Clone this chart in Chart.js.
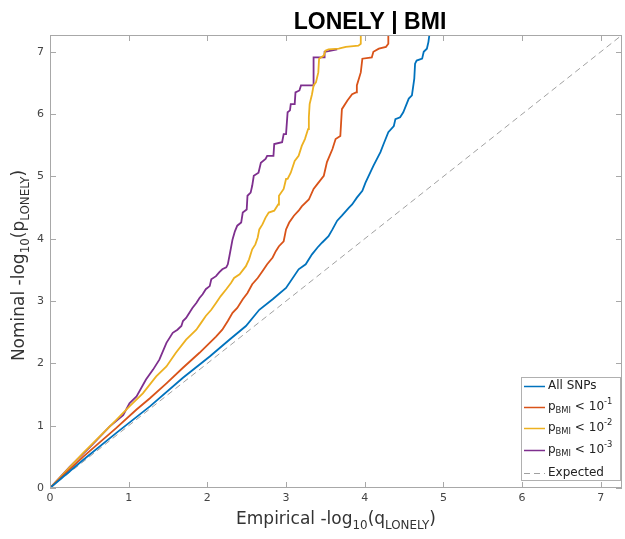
<!DOCTYPE html>
<html>
<head>
<meta charset="utf-8">
<script src="https://cdn.jsdelivr.net/npm/chart.js@4.4.6/dist/chart.umd.js"></script>
<style>
  html, body { margin: 0; padding: 0; background: #fff; }
  #wrap { width: 625px; height: 539px; }
</style>
</head>
<body>
<div id="wrap"><canvas id="qqChart"></canvas></div>
<script>
// QQ curves, as [empirical, nominal] pairs
const allSnps = [[0,0],[0.42,0.45],[0.84,0.88],[1.27,1.31],[1.69,1.77],[2.03,2.11],[2.28,2.38],
  [2.49,2.60],[2.66,2.86],[2.83,3.03],[3.0,3.21],[3.16,3.51],[3.25,3.59],[3.33,3.75],[3.40,3.86],
  [3.46,3.94],[3.54,4.04],[3.59,4.15],[3.65,4.29],[3.71,4.37],[3.80,4.50],[3.84,4.55],[3.90,4.66],
  [3.97,4.77],[4.01,4.90],[4.11,5.17],[4.20,5.39],[4.24,5.52],[4.30,5.71],[4.37,5.81],[4.39,5.92],
  [4.45,5.95],[4.49,6.03],[4.56,6.25],[4.60,6.30],[4.63,6.57],[4.64,6.81],[4.66,6.86],[4.73,6.89],
  [4.75,7.0],[4.79,7.05],[4.81,7.16],[4.83,7.35]];
const bmi1 = [[0,0],[0.42,0.50],[0.84,0.96],[1.10,1.26],[1.27,1.44],[1.48,1.68],[1.69,1.93],
  [1.90,2.17],[2.11,2.43],[2.19,2.54],[2.26,2.68],[2.32,2.81],[2.38,2.89],[2.45,3.03],[2.51,3.13],
  [2.57,3.27],[2.64,3.37],[2.70,3.48],[2.76,3.59],[2.83,3.70],[2.87,3.80],[2.91,3.88],[2.97,3.96],
  [3.0,4.15],[3.04,4.26],[3.10,4.37],[3.16,4.45],[3.20,4.52],[3.29,4.63],[3.35,4.80],[3.40,4.88],
  [3.48,5.01],[3.52,5.23],[3.59,5.44],[3.63,5.60],[3.69,5.65],[3.71,6.08],[3.78,6.22],[3.84,6.32],
  [3.89,6.35],[3.90,6.46],[3.95,6.67],[3.97,6.89],[4.09,6.91],[4.11,7.0],[4.18,7.05],[4.27,7.08],
  [4.30,7.13],[4.30,7.35]];
const bmi2 = [[0,0],[0.42,0.56],[0.84,1.09],[1.01,1.31],[1.18,1.52],[1.35,1.79],[1.48,1.95],
  [1.60,2.17],[1.73,2.38],[1.86,2.54],[1.92,2.65],[1.98,2.76],[2.05,2.86],[2.11,2.97],[2.17,3.08],
  [2.24,3.19],[2.30,3.29],[2.34,3.37],[2.41,3.43],[2.49,3.56],[2.53,3.67],[2.57,3.83],[2.61,3.91],
  [2.64,4.02],[2.66,4.15],[2.70,4.23],[2.74,4.34],[2.78,4.42],[2.85,4.45],[2.90,4.55],[2.91,4.69],
  [2.97,4.80],[3.0,4.96],[3.02,4.96],[3.06,5.06],[3.11,5.25],[3.16,5.33],[3.20,5.49],[3.24,5.60],
  [3.28,5.76],[3.29,5.95],[3.30,6.16],[3.33,6.32],[3.35,6.46],[3.38,6.51],[3.41,6.67],[3.42,6.89],
  [3.48,6.94],[3.50,7.02],[3.54,7.04],[3.67,7.05],[3.76,7.08],[3.92,7.10],[3.95,7.13],[3.95,7.35]];
const bmi3 = [[0,0],[0.25,0.34],[0.51,0.66],[0.76,0.99],[0.93,1.17],[1.01,1.36],[1.10,1.47],
  [1.22,1.74],[1.31,1.90],[1.39,2.06],[1.48,2.33],[1.56,2.49],[1.62,2.54],[1.67,2.60],[1.69,2.68],
  [1.73,2.73],[1.77,2.81],[1.81,2.89],[1.86,2.97],[1.90,3.05],[1.94,3.11],[1.98,3.19],[2.03,3.24],
  [2.05,3.35],[2.11,3.40],[2.15,3.46],[2.19,3.51],[2.24,3.54],[2.26,3.59],[2.28,3.72],[2.32,3.99],
  [2.35,4.12],[2.38,4.21],[2.43,4.26],[2.45,4.42],[2.50,4.47],[2.51,4.69],[2.55,4.74],[2.57,4.85],
  [2.59,5.01],[2.65,5.06],[2.68,5.22],[2.74,5.28],[2.76,5.33],[2.84,5.33],[2.85,5.52],[2.95,5.55],
  [2.97,5.68],[3.0,5.68],[3.02,6.03],[3.05,6.06],[3.06,6.16],[3.11,6.16],[3.12,6.35],[3.17,6.38],
  [3.19,6.46],[3.35,6.46],[3.35,6.91],[3.49,6.91],[3.49,7.0],[3.54,7.01],[3.65,7.04]];
const expected = [[0,0],[7.27,7.27]];
const axisMax = 7.27;

const toXY = (arr) => arr.map(p => ({x: p[0], y: p[1]}));

// draw text with sub/superscript parts, centred on x
function richText(ctx, parts, x, y, size) {
  let w = 0;
  parts.forEach(p => {
    ctx.font = (p.s ? size * 0.7 : size) + 'px "DejaVu Sans"';
    p.w = ctx.measureText(p.t).width;
    w += p.w;
  });
  let cx = x - w / 2;
  parts.forEach(p => {
    ctx.font = (p.s ? size * 0.7 : size) + 'px "DejaVu Sans"';
    let dy = p.s === 'sub' ? size * 0.3 : (p.s === 'sup' ? -size * 0.4 : 0);
    ctx.fillText(p.t, cx, y + dy);
    cx += p.w;
  });
}

const frameColor = '#a8a8a8';

const decorations = {
  id: 'decorations',
  afterDraw(chart) {
    const ctx = chart.ctx;
    const a = chart.chartArea;
    const xs = chart.scales.x, ys = chart.scales.y;
    ctx.save();
    // frame
    ctx.strokeStyle = frameColor;
    ctx.lineWidth = 1;
    ctx.strokeRect(a.left + 0.5, a.top + 0.5, a.right - a.left - 1, a.bottom - a.top - 1);
    // inward ticks
    ctx.beginPath();
    xs.ticks.forEach(t => {
      const px = Math.round(xs.getPixelForValue(t.value)) + 0.5;
      ctx.moveTo(px, a.bottom); ctx.lineTo(px, a.bottom - 6);
      ctx.moveTo(px, a.top); ctx.lineTo(px, a.top + 6);
    });
    ys.ticks.forEach(t => {
      const py = Math.round(ys.getPixelForValue(t.value)) + 0.5;
      ctx.moveTo(a.left, py); ctx.lineTo(a.left + 6, py);
      ctx.moveTo(a.right, py); ctx.lineTo(a.right - 6, py);
    });
    ctx.stroke();

    // title
    ctx.fillStyle = '#000';
    ctx.font = 'bold 23px "Liberation Sans"';
    ctx.textAlign = 'center';
    ctx.textBaseline = 'alphabetic';
    ctx.fillText('LONELY | BMI', 370, 29);

    // axis titles
    ctx.fillStyle = '#333';
    ctx.textAlign = 'left';
    richText(ctx, [{t: 'Empirical -log'}, {t: '10', s: 'sub'}, {t: '(q'}, {t: 'LONELY', s: 'sub'}, {t: ')'}],
      (a.left + a.right) / 2, 524, 17);
    ctx.save();
    ctx.translate(24, (a.top + a.bottom) / 2 + 4);
    ctx.rotate(-Math.PI / 2);
    richText(ctx, [{t: 'Nominal -log'}, {t: '10', s: 'sub'}, {t: '(p'}, {t: 'LONELY', s: 'sub'}, {t: ')'}],
      0, 0, 17);
    ctx.restore();

    // legend
    const lx = 521, ly = 377, lw = 99, lh = 103;
    ctx.fillStyle = '#fff';
    ctx.fillRect(lx, ly, lw, lh);
    ctx.strokeStyle = '#b0b0b0';
    ctx.lineWidth = 1;
    ctx.strokeRect(lx + 0.5, ly + 0.5, lw, lh);
    const rows = [386, 407, 428, 450, 473];
    const labels = [
      [{t: 'All SNPs'}],
      [{t: 'p'}, {t: 'BMI', s: 'sub'}, {t: ' < 10'}, {t: '-1', s: 'sup'}],
      [{t: 'p'}, {t: 'BMI', s: 'sub'}, {t: ' < 10'}, {t: '-2', s: 'sup'}],
      [{t: 'p'}, {t: 'BMI', s: 'sub'}, {t: ' < 10'}, {t: '-3', s: 'sup'}],
      [{t: 'Expected'}]
    ];
    chart.data.datasets.forEach((ds, i) => {
      const ry = rows[i] + 0.5;
      ctx.strokeStyle = ds.borderColor;
      ctx.lineWidth = i === 4 ? 1 : 1.5;
      ctx.setLineDash(ds.borderDash || []);
      ctx.beginPath();
      ctx.moveTo(524, ry); ctx.lineTo(545, ry);
      ctx.stroke();
      ctx.setLineDash([]);
      ctx.fillStyle = '#222';
      ctx.textBaseline = 'middle';
      let w = 0;
      labels[i].forEach(p => {
        ctx.font = (p.s ? 8.4 : 12) + 'px "DejaVu Sans"';
        w += ctx.measureText(p.t).width;
      });
      richText(ctx, labels[i], 548 + w / 2, rows[i], 12);
    });
    ctx.restore();
  }
};

const lineDs = (label, pts, color, width, dash) => ({
  label: label,
  data: toXY(pts),
  borderColor: color,
  borderWidth: width,
  borderDash: dash,
  pointRadius: 0,
  fill: false,
  tension: 0
});

new Chart(document.getElementById('qqChart'), {
  type: 'line',
  data: {
    datasets: [
      lineDs('All SNPs', allSnps, '#0072BD', 1.8),
      lineDs('pBMI < 10-1', bmi1, '#D95319', 1.8),
      lineDs('pBMI < 10-2', bmi2, '#EDB120', 1.8),
      lineDs('pBMI < 10-3', bmi3, '#7E2F8E', 1.8),
      lineDs('Expected', expected, '#a0a0a0', 1, [6, 4])
    ]
  },
  options: {
    responsive: true,
    maintainAspectRatio: false,
    animation: false,
    layout: { padding: { top: 35, right: 3, left: 0, bottom: 0 } },
    plugins: { legend: { display: false }, title: { display: false }, tooltip: { enabled: false } },
    scales: {
      x: {
        type: 'linear', min: 0, max: axisMax,
        grid: { display: false, drawTicks: false },
        border: { display: false },
        ticks: { stepSize: 1, includeBounds: false, padding: 4, color: '#444',
                 font: { family: 'DejaVu Sans', size: 11 } },
        afterFit(scale) { scale.height = 51; }
      },
      y: {
        type: 'linear', min: 0, max: axisMax,
        grid: { display: false, drawTicks: false },
        border: { display: false },
        ticks: { stepSize: 1, includeBounds: false, padding: 6, color: '#444',
                 font: { family: 'DejaVu Sans', size: 11 } },
        afterFit(scale) { scale.width = 50; }
      }
    }
  },
  plugins: [decorations]
});
</script>
</body>
</html>
